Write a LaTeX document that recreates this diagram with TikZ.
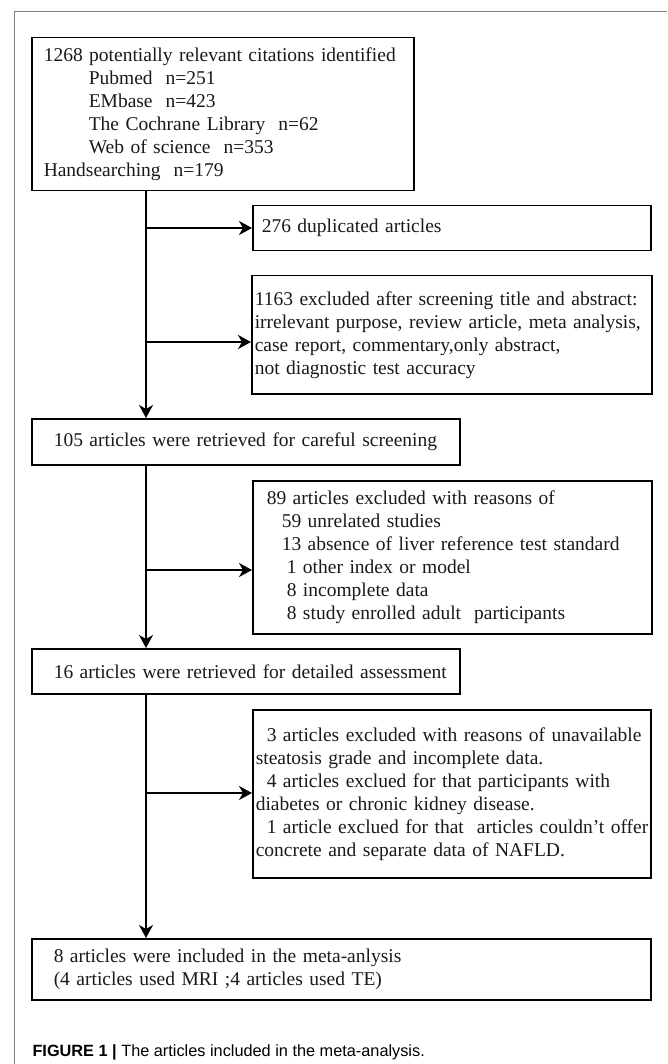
\documentclass[tikz,border=0pt]{standalone}
\usepackage{fontspec}
\setmainfont{Liberation Serif}
\newfontfamily\capfont{Liberation Sans}
\usetikzlibrary{arrows.meta}

\begin{document}
\begin{tikzpicture}[x=1pt, y=-1pt,
  font=\fontsize{19.5}{23}\selectfont, >={Stealth[length=13pt,width=14pt,inset=4pt]},
  box/.style={draw, line width=1.5pt, anchor=north west, align=left, inner ysep=0pt, text=black!90},
  arr/.style={->, line width=1.5pt}]
  \useasboundingbox (0,0) rectangle (667,1064);
  \draw[gray, line width=1pt] (14,1064) -- (14,12) -- (667,12);
  \node[box, text width=358pt, minimum height=153pt, inner xsep=12pt] (ident) at (31,37)
    {1268 potentially relevant citations identified\\
     \hspace*{45pt}Pubmed\ \ n=251\\
     \hspace*{45pt}EMbase\ \ n=423\\
     \hspace*{45pt}The Cochrane Library\ \ n=62\\
     \hspace*{45pt}Web of science\ \ n=353\\
     Handsearching\ \ n=179};
  \node[box, text width=380pt, minimum height=45pt, inner xsep=9pt] (dup) at (252,205) {276 duplicated articles};
  \node[box, text width=394pt, minimum height=118pt, inner xsep=3pt] (scr) at (251,275)
    {\mbox{1163 excluded after screening title and abstract:}\\
     \mbox{irrelevant purpose, review article, meta analysis,}\\
     case report, commentary,only abstract,\\
     not diagnostic test accuracy};
  \node[box, text width=384pt, minimum height=46pt, inner xsep=22pt] (retr) at (31,418) {\mbox{105 articles were retrieved for careful screening}};
  \node[box, text width=371pt, minimum height=153pt, inner xsep=14pt] (exa) at (252,480)
    {89 articles excluded with reasons of\\
     \hspace*{15pt}59 unrelated studies\\
     \hspace*{15pt}\mbox{13 absence of liver reference test standard}\\
     \hspace*{20pt}1 other index or model\\
     \hspace*{20pt}8 incomplete data\\
     \hspace*{20pt}8 study enrolled adult\ \ participants};
  \node[box, text width=384pt, minimum height=45pt, inner xsep=22pt] (full) at (31,648) {\mbox{16 articles were retrieved for detailed assessment}};
  \node[box, text width=392pt, minimum height=168pt, inner xsep=3pt] (exb) at (252,709)
    {\hspace*{11pt}\mbox{3 articles excluded with reasons of unavailable}\\
     steatosis grade and incomplete data.\\
     \hspace*{11pt}\mbox{4 articles exclued for that participants with}\\
     diabetes or chronic kidney disease.\\
     \hspace*{11pt}\mbox{1 article exclued for that\ \ articles couldn't offer}\\
     concrete and separate data of NAFLD.};
  \node[box, text width=575pt, minimum height=61pt, inner xsep=22pt] (incl) at (31,938)
    {8 articles were included in the meta-anlysis\\
     (4 articles used MRI ;4 articles used TE)};
  \node[anchor=base west, font=\capfont\fontsize{16.3}{19}\selectfont] (cap) at (29,1056)
    {\textbf{FIGURE 1 |} The articles included in the meta-analysis.};
  % trunk and branches
  \coordinate (j1) at (146,228);
  \coordinate (j2) at (146,342);
  \coordinate (j3) at (146,570);
  \coordinate (j4) at (146,793);
  \draw[arr] (ident.south -| j1) -- (retr.north -| j1);
  \draw[arr] (retr.south -| j1) -- (full.north -| j1);
  \draw[arr] (full.south -| j1) -- (incl.north -| j1);
  \foreach \j/\n in {j1/dup,j2/scr,j3/exa,j4/exb} {\draw[arr] (\j) -- (\j -| \n.west);}
\end{tikzpicture}
\end{document}
